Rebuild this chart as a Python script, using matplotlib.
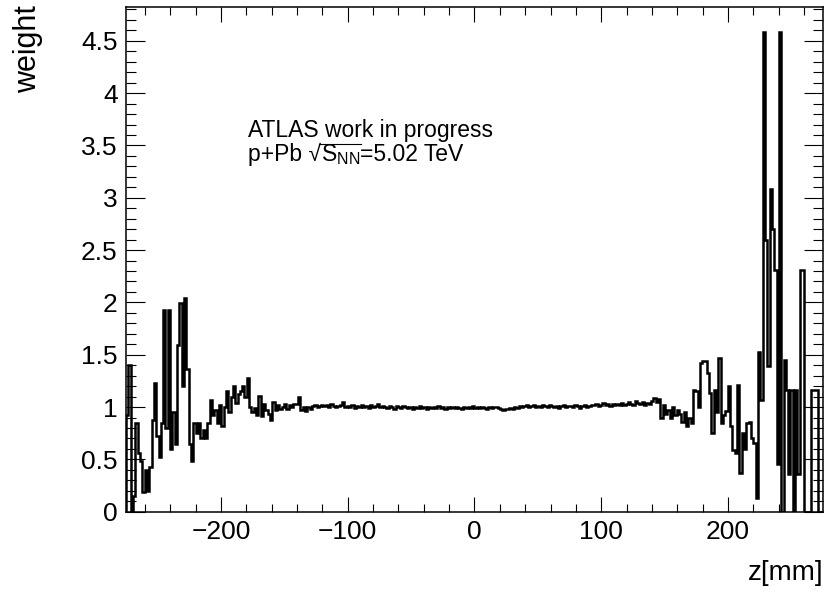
import numpy as np
import matplotlib
matplotlib.use("Agg")
import matplotlib.pyplot as plt
from matplotlib.lines import Line2D
from matplotlib.ticker import MultipleLocator, FuncFormatter

plt.rcParams['font.family'] = ['Liberation Sans', 'DejaVu Sans']
plt.rcParams['mathtext.fontset'] = 'custom'
plt.rcParams['mathtext.rm'] = 'Liberation Sans'
plt.rcParams['mathtext.it'] = 'Liberation Sans:italic'
plt.rcParams['mathtext.bf'] = 'Liberation Sans:bold'

# histogram: 300 bins from -275 to 275 mm
z_min, z_max, n_bins = -275.0, 275.0, 300

left_region = [0.92, 1.40, 0.00, 0.15, 0.85, 0.56, 0.48, 0.19, 0.40, 0.20,
               0.43, 0.88, 1.23, 0.72, 0.52, 0.85, 1.93, 0.80, 1.93, 0.60,
               0.95, 0.65, 1.59, 1.99, 1.20, 2.04, 1.36, 0.65, 0.48, 0.85,
               0.75, 0.85, 0.70, 0.78, 0.70, 0.85, 1.07, 0.92, 0.97, 0.85,
               1.02, 0.82, 1.00, 1.15, 0.95, 1.10, 1.20, 1.04, 1.12, 1.15,
               1.20, 1.10, 1.28, 1.00, 0.95, 0.99, 0.92, 1.11, 0.91, 1.03,
               0.97, 0.93, 0.88, 1.05, 0.97, 1.02, 0.98]

middle_region = [1.00, 1.03, 0.98, 1.02, 1.00, 1.03,
                 1.03,
                 1.10, 0.97, 1.00, 0.96, 1.00, 0.98, 1.01,
                 1.02, 1.00, 1.01, 1.02, 1.01, 1.02, 1.00, 1.03, 1.01, 1.00,
                 1.01, 1.02, 1.05, 1.00, 1.01, 1.00, 1.02, 0.99, 1.01, 1.00,
                 1.02, 1.00, 1.01, 0.99, 1.02, 1.00, 1.01, 1.03, 1.00, 1.01,
                 1.00, 0.99, 1.01, 1.00, 0.98, 1.01, 1.00, 0.99, 1.01, 1.00,
                 0.99, 1.00, 0.98, 1.00, 0.99, 1.01, 0.99, 1.00, 0.98, 1.00,
                 0.99, 1.00, 0.99, 1.01, 0.99, 1.00, 0.98, 1.00, 0.99, 1.00,
                 0.99, 1.00, 0.99, 0.98, 1.00, 0.99, 1.00, 0.99, 1.01, 0.99,
                 1.00, 0.99, 1.00, 0.99, 0.98, 1.00, 0.99, 1.00, 1.00, 0.99,
                 0.98, 0.97, 0.98, 0.98, 0.99, 0.98, 1.00, 0.99, 1.01, 1.00,
                 1.01, 1.02, 1.00, 1.01, 1.02, 1.00, 1.01, 1.00, 1.02, 1.01,
                 1.00, 1.02, 1.01, 1.00, 1.01, 0.99, 1.01, 1.02, 1.00, 1.01,
                 1.01, 1.00, 1.02, 1.01, 0.99, 1.01, 1.02, 1.00, 1.01, 1.02,
                 1.02, 1.03, 1.01, 1.02, 1.04, 1.02, 1.03, 1.01, 1.03, 1.02,
                 1.03, 1.02, 1.04, 1.02, 1.03, 1.05, 1.03, 1.02, 1.06, 1.04,
                 1.03, 1.05, 1.02, 1.04, 1.03]

right_region = [1.06, 1.09, 1.05, 1.08, 0.90, 1.02, 0.93, 0.97, 0.90, 1.00,
                0.92, 0.97, 0.93, 0.86, 0.95, 0.82, 0.90, 0.85, 1.16, 1.15,
                1.00, 1.42, 1.44, 1.44, 1.33, 1.13, 0.75, 1.16, 0.95, 1.47,
                0.85, 0.92, 0.96, 1.20, 0.82, 0.59, 0.56, 1.21, 0.37, 0.75,
                0.60, 0.85, 0.86, 0.70, 0.66, 0.13, 1.53, 1.07, 4.58, 2.60,
                1.39, 3.08, 2.70, 2.31, 0.46, 4.58, 0.00, 1.45, 1.16, 0.36,
                1.16, 0.00, 1.16, 0.36, 2.31, 2.31, 0.00, 0.00, 0.00, 1.16,
                1.16, 1.16, 0.00, 0.00]

weights = np.array(left_region + middle_region + right_region)
edges = np.linspace(z_min, z_max, n_bins + 1)

x_major_ticks = [-200, -100, 0, 100, 200]

W, H = 825, 603
fig = plt.figure(figsize=(W / 100, H / 100), dpi=100)
ax = fig.add_axes([0.1527, 0.1514, 0.8449, 0.8365])

ax.stairs(weights[:n_bins], edges, color='black', linewidth=1.8, baseline=0)

ax.set_xlim(z_min, z_max)
ax.set_ylim(0, 4.82)

ax.set_xticks(x_major_ticks)
ax.xaxis.set_minor_locator(MultipleLocator(20))
ax.yaxis.set_major_locator(MultipleLocator(0.5))
ax.yaxis.set_minor_locator(MultipleLocator(0.1))
ax.yaxis.set_major_formatter(FuncFormatter(lambda v, p: '%g' % v))
ax.xaxis.set_major_formatter(FuncFormatter(lambda v, p: ('\u2212%g' % -v) if v < 0 else '%g' % v))

ax.tick_params(axis='both', which='both', direction='in', top=True, right=True,
               width=0.8, color='black')
ax.tick_params(axis='x', which='major', length=11, pad=6, labelsize=19)
ax.tick_params(axis='x', which='minor', length=5.8)
ax.tick_params(axis='y', which='major', length=14, pad=6, labelsize=19)
ax.tick_params(axis='y', which='minor', length=7)
for s in ax.spines.values():
    s.set_linewidth(1.1)

fig.text(0.9976, 0.038, 'z[mm]', ha='right', va='baseline', fontsize=20)
fig.text(0.034, 0.992, 'weight', rotation=90, ha='center', va='top', fontsize=22)

fs = 16.5
x0, y1, y2 = 0.3006, 0.7728, 0.7335
fig.text(x0, y1, 'ATLAS work in progress', ha='left', va='baseline', fontsize=fs)

renderer = fig.canvas.get_renderer()
t_a = fig.text(x0, y2, 'p+Pb \u221a', ha='left', va='baseline', fontsize=fs)
bb_a = t_a.get_window_extent(renderer)
t_b = fig.text(bb_a.x1 / W, y2, r'$\mathrm{S}_{\mathrm{NN}}$', ha='left', va='baseline', fontsize=fs)
bb_b = t_b.get_window_extent(renderer)
t_c = fig.text(bb_b.x1 / W, y2, '=5.02 TeV', ha='left', va='baseline', fontsize=fs)
# overline of the square root, just above the capital S
y_bar = y2 + 17.0 / H
fig.add_artist(Line2D([(bb_a.x1 - 1.5) / W, (bb_b.x1 + 0.5) / W], [y_bar, y_bar],
                      transform=fig.transFigure, color='black', linewidth=0.8))

fig.savefig('out.png', dpi=100)
